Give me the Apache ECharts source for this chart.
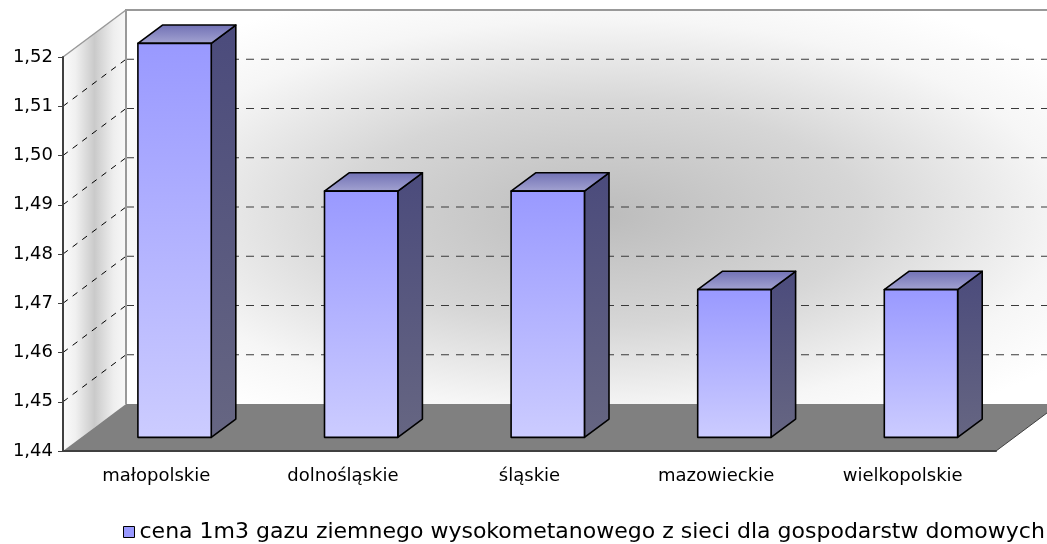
<!DOCTYPE html>
<html>
<head>
<meta charset="utf-8">
<script src="https://cdn.jsdelivr.net/npm/echarts@6/dist/echarts.min.js"></script>
<style>
    html, body { margin: 0; padding: 0; background: #fff; }
    #chart { width: 1047px; height: 544px; }
</style>
</head>
<body>
<div id="chart"></div>
<script>

const regions = ['małopolskie', 'dolnośląskie', 'śląskie', 'mazowieckie', 'wielkopolskie'];
const prices = [1.52, 1.49, 1.49, 1.47, 1.47];
const yTicks = [1.44, 1.45, 1.46, 1.47, 1.48, 1.49, 1.50, 1.51, 1.52];
const seriesName = 'cena 1m3 gazu ziemnego wysokometanowego z sieci dla gospodarstw domowych';

// 3d look: offset from the front plane to the back wall
const DEPTH = [63, -47];
const BAR_NEAR = 0.29;
const BAR_FAR = 0.68;
const BAR_WIDTH = 0.393;
const FONT = 'DejaVu Sans';

const chart = echarts.init(document.getElementById('chart'));

const renderScene = (params, api) => {
    const cs = params.coordSys;
    const left = cs.x;
    const right = cs.x + cs.width;
    const yLow = api.coord([0, yTicks[0]])[1];
    const yHigh = api.coord([0, yTicks[yTicks.length - 1]])[1];
    const [dx, dy] = DEPTH;
    const h = yLow - yHigh;
    const w = cs.width;

    const children = [];

    // back wall
    children.push({
        type: 'rect',
        shape: { x: left + dx, y: yHigh + dy, width: w, height: h },
        style: { fill: '#ffffff' },
    });
    children.push({
        type: 'rect',
        x: left + dx,
        y: yHigh + dy,
        scaleX: w / h,
        shape: { x: 0, y: 0, width: h, height: h },
        style: {
            fill: new echarts.graphic.RadialGradient(0.51, 0.52, 0.62, [
                { offset: 0, color: '#bcbcbc' },
                { offset: 0.45, color: '#d6d6d6' },
                { offset: 0.8, color: '#f6f6f6' },
                { offset: 1, color: '#ffffff' },
            ]),
        },
    });

    // side wall
    children.push({
        type: 'polygon',
        shape: { points: [[left, yLow], [left, yHigh], [left + dx, yHigh + dy], [left + dx, yLow + dy]] },
        style: {
            fill: new echarts.graphic.LinearGradient(0, 0, 1, 0, [
                { offset: 0, color: '#fbfbfb' },
                { offset: 0.2, color: '#f0f0f0' },
                { offset: 0.5, color: '#cacaca' },
                { offset: 0.8, color: '#eeeeee' },
                { offset: 1, color: '#f8f8f8' },
            ]),
        },
    });

    // floor
    children.push({
        type: 'polygon',
        shape: { points: [[left, yLow], [right, yLow], [right + dx, yLow + dy], [left + dx, yLow + dy]] },
        style: { fill: '#808080' },
    });
    children.push({
        type: 'line',
        shape: { x1: right, y1: yLow, x2: right + dx, y2: yLow + dy },
        style: { stroke: '#404040', lineWidth: 1 },
    });

    // grid lines on back and side wall
    yTicks.slice(1, -1).forEach((v) => {
        const y = api.coord([0, v])[1];
        children.push({
            type: 'line',
            shape: { x1: left + dx, y1: y + dy, x2: right + dx, y2: y + dy },
            style: { stroke: '#3a3a3a', lineWidth: 1, lineDash: [8, 7] },
        });
        children.push({
            type: 'line',
            shape: { x1: left, y1: y, x2: left + dx, y2: y + dy },
            style: { stroke: '#000', lineWidth: 1, lineDash: [6, 6] },
        });
    });

    // wall edges
    children.push({
        type: 'polyline',
        shape: { points: [[left + dx, yLow + dy], [left + dx, yHigh + dy], [right + dx, yHigh + dy]] },
        style: { stroke: '#999', lineWidth: 2, fill: null },
    });
    children.push({
        type: 'line',
        shape: { x1: left, y1: yHigh, x2: left + dx, y2: yHigh + dy },
        style: { stroke: '#999', lineWidth: 1.5 },
    });

    return { type: 'group', children };
};

const renderBar = (params, api) => {
    const i = api.value(0);
    const base = api.coord([i, yTicks[0]]);
    const top = api.coord([i, api.value(1)]);
    const bw = api.size([1, 0])[0] * BAR_WIDTH;

    const fx = DEPTH[0] * BAR_NEAR;
    const fy = DEPTH[1] * BAR_NEAR;
    const bx = DEPTH[0] * (BAR_FAR - BAR_NEAR);
    const by = DEPTH[1] * (BAR_FAR - BAR_NEAR);

    const xl = base[0] - bw / 2 + fx;
    const xr = xl + bw;
    const yt = top[1] + fy;
    const yb = base[1] + fy;

    const edge = { stroke: '#000', lineWidth: 1.6, lineJoin: 'round' };

    return {
        type: 'group',
        children: [
            {
                type: 'polygon',
                shape: { points: [[xr, yt], [xr + bx, yt + by], [xr + bx, yb + by], [xr, yb]] },
                style: Object.assign({
                    fill: new echarts.graphic.LinearGradient(0, 0, 0, 1, [
                        { offset: 0, color: '#4b4b7c' },
                        { offset: 1, color: '#666682' },
                    ]),
                }, edge),
            },
            {
                type: 'polygon',
                shape: { points: [[xl, yt], [xl + bx, yt + by], [xr + bx, yt + by], [xr, yt]] },
                style: Object.assign({
                    fill: new echarts.graphic.LinearGradient(0, 0, 0, 1, [
                        { offset: 0, color: '#7070b4' },
                        { offset: 1, color: '#a4a4d2' },
                    ]),
                }, edge),
            },
            {
                type: 'rect',
                shape: { x: xl, y: yt, width: bw, height: yb - yt },
                style: Object.assign({
                    fill: new echarts.graphic.LinearGradient(0, 0, 0, 1, [
                        { offset: 0, color: '#9999ff' },
                        { offset: 1, color: '#ccccff' },
                    ]),
                }, edge),
            },
        ],
    };
};

chart.setOption({
    animation: false,
    backgroundColor: '#ffffff',
    grid: {
        left: 63,
        right: 51,
        top: 57,
        bottom: 93,
    },
    legend: {
        data: [seriesName],
        left: 118,
        top: 516,
        icon: 'rect',
        itemWidth: 11,
        itemHeight: 11,
        itemStyle: { borderColor: '#000', borderWidth: 1 },
        textStyle: { fontFamily: FONT, fontSize: 22, color: '#000' },
    },
    xAxis: {
        type: 'category',
        data: regions,
        z: 5,
        axisLine: { lineStyle: { color: '#404040', width: 2 } },
        axisTick: { length: 6, lineStyle: { color: '#404040' } },
        axisLabel: { fontFamily: FONT, fontSize: 18, color: '#000', margin: 16 },
        splitLine: { show: false },
    },
    yAxis: {
        type: 'value',
        min: yTicks[0],
        max: yTicks[yTicks.length - 1],
        interval: 0.01,
        z: 5,
        axisLine: { show: true, lineStyle: { color: '#404040', width: 2 } },
        axisTick: { show: true, length: 5, lineStyle: { color: '#404040' } },
        axisLabel: {
            fontFamily: FONT,
            fontSize: 18,
            color: '#000',
            margin: 10,
            formatter: (v) => v.toFixed(2).replace('.', ','),
        },
        splitLine: { show: false },
    },
    series: [
        {
            name: 'scene',
            type: 'custom',
            z: 1,
            silent: true,
            renderItem: renderScene,
            data: [[0, yTicks[0]]],
        },
        {
            name: seriesName,
            type: 'custom',
            z: 3,
            itemStyle: { color: '#9999ff' },
            renderItem: renderBar,
            data: prices.map((v, i) => [i, v]),
        },
    ],
});

</script>
</body>
</html>
